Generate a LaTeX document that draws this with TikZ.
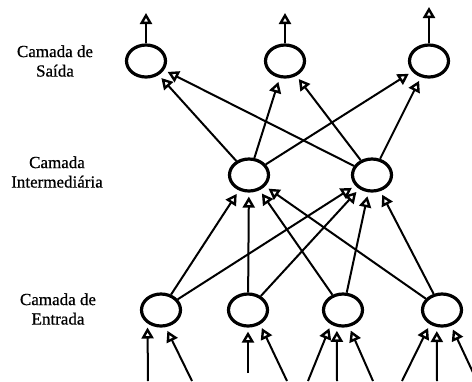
\documentclass[tikz,border=0pt]{standalone}
\usepackage{fontspec}
\setmainfont{Liberation Serif}
\newfontfamily\rotfont{Liberation Serif}[FakeBold=0.7]
\usetikzlibrary{arrows.meta,shapes.geometric}
\begin{document}
\begin{tikzpicture}[x=1pt, y=-1pt,
      neuron/.style={draw, ellipse, line width=3.2pt, minimum width=39pt, minimum height=32pt, inner sep=0pt},
      seta/.style={line width=2pt, -{Triangle[open, length=11pt, width=12pt, line width=2.4pt]}, shorten >=4pt},
      saida/.style={seta, shorten >=0pt},
      rotulo/.style={align=center, font=\rotfont\fontsize{17}{19.5}\selectfont}
    ]
    \clip (0,0) rectangle (472,381);

    % camadas
    \node[rotulo] (LS) at (55,61) {Camada de\\Saída};
    \node[rotulo] (LM) at (57,172) {Camada\\Intermediária};
    \node[rotulo] (LE) at (58,309) {Camada de\\Entrada};

    \node[neuron] (S1) at (146,61) {};
    \node[neuron] (S2) at (285,61) {};
    \node[neuron] (S3) at (429,61) {};

    \node[neuron] (M1) at (249,175) {};
    \node[neuron] (M2) at (372,175) {};

    \node[neuron] (E1) at (161,310) {};
    \node[neuron] (E2) at (248,310) {};
    \node[neuron] (E3) at (343,310) {};
    \node[neuron] (E4) at (442,310) {};

    % extremos livres
    \coordinate (Y1) at (146,13);
    \coordinate (Y2) at (285,13);
    \coordinate (Y3) at (429,7);

    \coordinate (X1a) at (148,381);
    \coordinate (X1b) at (192,381);
    \coordinate (X2a) at (248,373);
    \coordinate (X2b) at (287,381);
    \coordinate (X3a) at (308,381);
    \coordinate (X3b) at (337,381);
    \coordinate (X3c) at (373,381);
    \coordinate (X4a) at (402,381);
    \coordinate (X4b) at (437,381);
    \coordinate (X4c) at (477,381);

    \draw[saida] (S1) -- (Y1);
    \draw[saida] (S2) -- (Y2);
    \draw[saida] (S3) -- (Y3);

    \draw[seta] (M1) -- (S1);
    \draw[seta] (M1) -- (S2);
    \draw[seta] (M1) -- (S3);
    \draw[seta] (M2) -- (S1);
    \draw[seta] (M2) -- (S2);
    \draw[seta] (M2) -- (S3);

    \draw[seta] (E1) -- (M1);
    \draw[seta] (E1) -- (M2);
    \draw[seta] (E2) -- (M1);
    \draw[seta] (E2) -- (M2);
    \draw[seta] (E3) -- (M1);
    \draw[seta] (E3) -- (M2);
    \draw[seta] (E4) -- (M1);
    \draw[seta] (E4) -- (M2);

    \draw[seta] (X1a) -- (E1.225);
    \draw[seta] (X1b) -- (E1.285);
    \draw[seta] (X2a) -- (E2.270);
    \draw[seta] (X2b) -- (E2.310);
    \draw[seta] (X3a) -- (E3.230);
    \draw[seta] (X3b) -- (E3.250);
    \draw[seta] (X3c) -- (E3.290);
    \draw[seta] (X4a) -- (E4.230);
    \draw[seta] (X4b) -- (E4.253);
    \draw[seta] (X4c) -- (E4.300);

\end{tikzpicture}
\end{document}
